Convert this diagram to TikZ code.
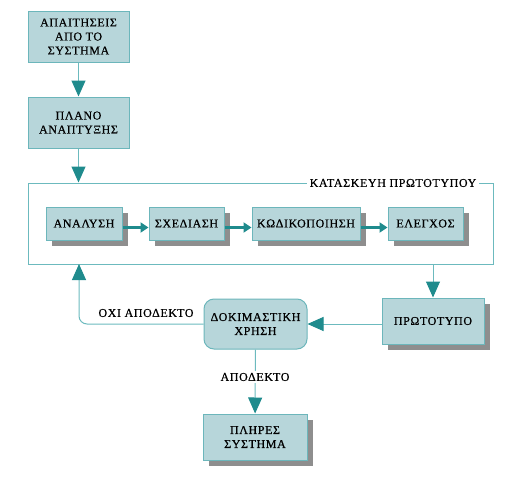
\documentclass[tikz,border=0pt]{standalone}
\usepackage{fontspec}
\setmainfont{Liberation Serif}[LetterSpace=5,FakeBold=0.6]
\usetikzlibrary{arrows.meta,shadows,calc}
\definecolor{boxfill}{HTML}{B7D6DA}
\definecolor{boxdraw}{HTML}{6CB6BB}
\definecolor{linecol}{HTML}{6CBABE}
\definecolor{headcol}{HTML}{1F8B8D}
\definecolor{shadowcol}{HTML}{8E8E8E}
\tikzset{
  box/.style={draw=boxdraw, line width=1pt, fill=boxfill, align=center, inner sep=1pt,
    font=\fontsize{12}{14}\selectfont},
  shadowed/.style={general shadow={fill=shadowcol, shadow xshift=6pt, shadow yshift=-6pt}},
  bigarrow/.style={draw=linecol, line width=1pt, -{Triangle[width=14pt,length=16pt,color=headcol]}},
  smallarrow/.style={draw=headcol, line width=3pt, -{Triangle[width=10pt,length=8pt,color=headcol]}},
  plainline/.style={draw=linecol, line width=1pt},
  lbl/.style={font=\fontsize{12}{14}\selectfont, inner sep=2pt}
}
\begin{document}
\begin{tikzpicture}[x=1pt,y=-1pt]
\useasboundingbox (0,0) rectangle (528,482);
% top boxes
\node[box, minimum width=101pt, minimum height=51pt] (req) at (78.5,36.5) {ΑΠΑΙΤΗΣΕΙΣ\\ΑΠΟ ΤΟ\\ΣΥΣΤΗΜΑ};
\node[box, minimum width=101pt, minimum height=51pt] (plan) at (78.5,122.5) {ΠΛΑΝΟ\\ΑΝΑΠΤΥΞΗΣ};
% frame
\node[draw=linecol, line width=1pt, minimum width=465pt, minimum height=81pt, inner sep=0pt] (frame) at (260.5,223.5) {};
\node[lbl, fill=white, inner sep=3pt] (framelbl) at (393,183) {ΚΑΤΑΣΚΕΥΗ ΠΡΩΤΟΤΥΠΟΥ};
% inner boxes
\node[box, shadowed, minimum width=76pt, minimum height=33pt] (an) at (84,223.5) {ΑΝΑΛΥΣΗ};
\node[box, shadowed, minimum width=75pt, minimum height=33pt] (sx) at (186.5,223.5) {ΣΧΕΔΙΑΣΗ};
\node[box, shadowed, minimum width=108pt, minimum height=33pt] (kw) at (306,223.5) {ΚΩΔΙΚΟΠΟΙΗΣΗ};
\node[box, shadowed, minimum width=75pt, minimum height=33pt] (el) at (425.5,223.5) {ΕΛΕΓΧΟΣ};
% bottom
\node[box, shadowed, minimum width=102pt, minimum height=46pt] (prot) at (433,321) {ΠΡΩΤΟΤΥΠΟ};
\node[box, rounded corners=10pt, minimum width=103pt, minimum height=50pt] (dok) at (255.5,324) {ΔΟΚΙΜΑΣΤΙΚΗ\\ΧΡΗΣΗ};
\node[box, shadowed, minimum width=104pt, minimum height=46pt] (full) at (255,437) {ΠΛΗΡΕΣ\\ΣΥΣΤΗΜΑ};
% connectors
\draw[bigarrow] (req) -- (plan);
\draw[bigarrow] (plan) -- (plan.south |- frame.north);
\draw[smallarrow] ([yshift=-4pt]an.east) -- ([yshift=-4pt]sx.west);
\draw[smallarrow] ([yshift=-4pt]sx.east) -- ([yshift=-4pt]kw.west);
\draw[smallarrow] ([yshift=-4pt]kw.east) -- ([yshift=-4pt]el.west);
\draw[bigarrow] (prot.north |- frame.south) -- (prot);
\draw[bigarrow] (prot.west |- dok.east) -- (dok.east);
\coordinate (back) at (79,264);
\draw[bigarrow, rounded corners=8pt] (dok.west) -- (back |- dok.west) -- (back);
\node[lbl] (notok) at (146,313) {ΟΧΙ ΑΠΟΔΕΚΤΟ};
\draw[bigarrow] (dok) -- (full);
\node[lbl, fill=white] (ok) at (255,377) {ΑΠΟΔΕΚΤΟ};
\end{tikzpicture}
\end{document}
